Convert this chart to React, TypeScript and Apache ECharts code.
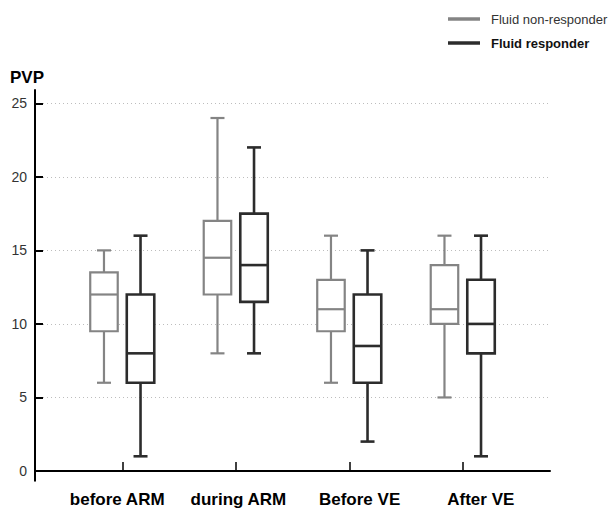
import React, { useEffect, useRef } from "react";
import * as echarts from "echarts";

const categories = ["before ARM", "during ARM", "Before VE", "After VE"];
// [min, Q1, median, Q3, max]
const nonResponder = [
  [6, 9.5, 12, 13.5, 15],
  [8, 12, 14.5, 17, 24],
  [6, 9.5, 11, 13, 16],
  [5, 10, 11, 14, 16],
];
const responder = [
  [1, 6, 8, 12, 16],
  [8, 11.5, 14, 17.5, 22],
  [2, 6, 8.5, 12, 15],
  [1, 8, 10, 13, 16],
];
const seriesNames = ["Fluid non-responder", "Fluid responder"];
const yMin = 0;
const yMax = 25;
const yInterval = 5;

const FONT = "'Liberation Sans', Arial, sans-serif";
const GREY = "#848484";
const DARK = "#2c2c2c";

function makeRender(offsetRatio: number, color: string, lw: number) {
  return (params: any, api: any) => {
    const x = api.value(0);
    const band = api.size([1, 0])[0];
    const cx = api.coord([x, 0])[0] + offsetRatio * band;
    const pMin = api.coord([x, api.value(1)])[1];
    const pQ1 = api.coord([x, api.value(2)])[1];
    const pMed = api.coord([x, api.value(3)])[1];
    const pQ3 = api.coord([x, api.value(4)])[1];
    const pMax = api.coord([x, api.value(5)])[1];
    const half = 13.75;
    const cap = 7;
    const st = { stroke: color, lineWidth: lw, fill: null };
    return {
      type: "group",
      children: [
        { type: "line", shape: { x1: cx, y1: pMax, x2: cx, y2: pQ3 }, style: st },
        { type: "line", shape: { x1: cx, y1: pQ1, x2: cx, y2: pMin }, style: st },
        { type: "line", shape: { x1: cx - cap, y1: pMax, x2: cx + cap, y2: pMax }, style: st },
        { type: "line", shape: { x1: cx - cap, y1: pMin, x2: cx + cap, y2: pMin }, style: st },
        {
          type: "rect",
          shape: { x: cx - half, y: pQ3, width: half * 2, height: pQ1 - pQ3 },
          style: { stroke: color, lineWidth: lw, fill: "#fff" },
        },
        { type: "line", shape: { x1: cx - half, y1: pMed, x2: cx + half, y2: pMed }, style: st },
      ],
    };
  };
}

export default function App() {
  const ref = useRef<HTMLDivElement>(null);
  useEffect(() => {
    if (!ref.current) return;
    const chart = echarts.init(ref.current, null, { renderer: "svg" });
    const toData = (arr: number[][]) => arr.map((v, i) => [i, ...v]);
    chart.setOption({
      animation: false,
      backgroundColor: "#fff",
      textStyle: { fontFamily: FONT },
      title: {
        text: "PVP",
        left: 10,
        top: 69,
        padding: 0,
        textStyle: { fontFamily: FONT, fontSize: 17, fontWeight: "bold", color: "#000" },
      },
      legend: {
        orient: "vertical",
        left: 448,
        top: 12,
        padding: 0,
        itemWidth: 32,
        itemHeight: 3.5,
        itemGap: 10,
        icon: "rect",
        data: [
          {
            name: seriesNames[0],
            textStyle: { fontSize: 13, color: "#333", fontWeight: "normal", lineHeight: 14, padding: [0, 0, 0, 6] },
          },
          {
            name: seriesNames[1],
            textStyle: { fontSize: 13, color: "#111", fontWeight: "bold", lineHeight: 14, padding: [0, 0, 0, 6] },
          },
        ],
        textStyle: { fontFamily: FONT },
      },
      grid: [
        { left: 35, right: 60, top: 90, bottom: 27.3 },
        { left: 35, right: 60, top: 103.3, bottom: 37 },
        { left: 65.5, width: 454, top: 103.3, bottom: 37 },
        { left: 56.6, width: 484.8, top: 103.3, bottom: 37 },
      ],
      xAxis: [
        {
          gridIndex: 0,
          type: "value",
          min: 0,
          max: 1,
          axisLine: { show: true, lineStyle: { color: "#000", width: 2 } },
          axisTick: { show: false },
          axisLabel: { show: false },
          splitLine: { show: false },
        },
        { gridIndex: 1, type: "value", min: 0, max: 1, show: false },
        {
          gridIndex: 2,
          type: "category",
          data: categories,
          boundaryGap: true,
          offset: 9.7,
          axisLine: { show: false },
          axisTick: {
            show: true,
            inside: true,
            alignWithLabel: true,
            length: 9,
            lineStyle: { color: "#000", width: 1.5 },
          },
          axisLabel: { show: false },
          splitLine: { show: false },
        },
        {
          gridIndex: 3,
          type: "category",
          data: categories,
          boundaryGap: true,
          offset: 9.7,
          axisLine: { show: false },
          axisTick: { show: false },
          axisLabel: {
            interval: 0,
            hideOverlap: false,
            margin: 10,
            fontFamily: FONT,
            fontSize: 17,
            fontWeight: "bold",
            color: "#000",
          },
          splitLine: { show: false },
        },
      ],
      yAxis: [
        {
          gridIndex: 0,
          type: "value",
          min: -0.66,
          max: 25.9,
          axisLine: { show: true, lineStyle: { color: "#000", width: 2 } },
          axisTick: { show: false },
          axisLabel: { show: false },
          splitLine: { show: false },
        },
        {
          gridIndex: 1,
          type: "value",
          min: yMin,
          max: yMax,
          interval: yInterval,
          axisLine: { show: false },
          axisTick: { show: true, inside: true, length: 8, lineStyle: { color: "#000", width: 2 } },
          axisLabel: { margin: 8, fontFamily: FONT, fontSize: 14, color: "#333" },
          splitLine: { show: true, lineStyle: { color: "#bdbdbd", type: [1, 3], width: 1 } },
        },
        { gridIndex: 2, type: "value", min: yMin, max: yMax, show: false },
        { gridIndex: 3, type: "value", min: yMin, max: yMax, show: false },
      ],
      series: [
        {
          name: seriesNames[0],
          type: "custom",
          xAxisIndex: 2,
          yAxisIndex: 2,
          itemStyle: { color: GREY },
          encode: { x: 0, y: [1, 2, 3, 4, 5] },
          data: toData(nonResponder),
          renderItem: makeRender(-0.161, GREY, 2.2),
        },
        {
          name: seriesNames[1],
          type: "custom",
          xAxisIndex: 2,
          yAxisIndex: 2,
          itemStyle: { color: DARK },
          encode: { x: 0, y: [1, 2, 3, 4, 5] },
          data: toData(responder),
          renderItem: makeRender(0.161, DARK, 2.6),
        },
      ],
    });
    return () => chart.dispose();
  }, []);
  return <div ref={ref} style={{ width: 610, height: 508, position: "absolute", left: 0, top: 0 }} />;
}
